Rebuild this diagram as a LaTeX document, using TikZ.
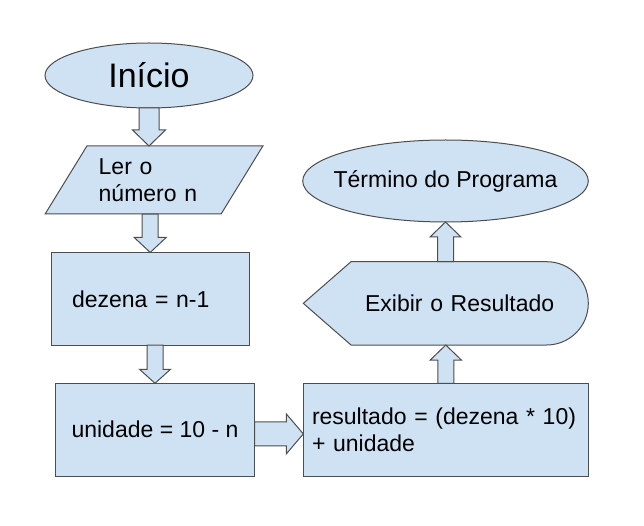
\documentclass[tikz,border=0pt]{standalone}
\usepackage{fontspec}
\setmainfont{Liberation Sans}
\usetikzlibrary{shapes.geometric,calc,backgrounds}

\definecolor{azul}{HTML}{CFE2F3}
\definecolor{borda}{HTML}{4D4D4D}

\tikzset{
  forma/.style={draw=borda, fill=azul, line width=1pt},
  elipse/.style={forma, ellipse, inner sep=0pt, outer sep=0pt},
  caixa/.style={forma, rectangle, minimum height=92.7pt, outer sep=0pt},
  entrada/.style={forma, trapezium, trapezium left angle=53.7,
    trapezium right angle=126.3, trapezium stretches=true, outer sep=0pt},
  seta/.style={forma, line join=miter},
}

% seta larga: inicio, ponta, meia largura da haste, meia largura da cabeca, comprimento da cabeca
\newcommand{\blocoseta}[5]{%
  \coordinate (s-a) at (#1);
  \coordinate (s-b) at (#2);
  \coordinate (s-c) at ($(s-b)!#5!(s-a)$);
  \draw[seta] ($(s-a)!#3!90:(s-b)$) -- ($(s-c)!#3!-90:(s-a)$) -- ($(s-c)!#4!-90:(s-a)$)
    -- (s-b) -- ($(s-c)!#4!90:(s-a)$) -- ($(s-c)!#3!90:(s-a)$) -- ($(s-a)!#3!-90:(s-b)$) -- cycle;
}

\begin{document}
\begin{tikzpicture}[x=1pt, y=1pt, font=\fontsize{23}{27}\selectfont]
  \useasboundingbox (0,0) rectangle (644,525);
  % coluna da esquerda
  \node[elipse, minimum width=208pt, minimum height=65pt,
    font=\fontsize{34}{40}\selectfont] (inicio) at (149,449.5) {Início};
  \node[entrada, minimum width=218pt, minimum height=68pt, text width=110.6pt,
    align=left] (ler) at (154,345) {Ler o\\número n};
  \node[caixa, minimum width=198.3pt, text width=156.4pt, align=left] (dezena)
    at (150.2,226.2) {dezena = n-1};
  \node[caixa, minimum width=199pt, align=center] (unidade) at (155,95.35)
    {unidade = 10 - n};
  % coluna da direita
  \node[caixa, minimum width=285pt, text width=267.6pt, align=left] (resultado)
    at (445.8,95.35) {resultado = (dezena * 10)\\+ unidade};
  \node[rectangle, minimum width=285pt, minimum height=83.3pt, outer sep=0pt,
    text width=217pt, align=right] (exibir) at (445.8,221.65) {Exibir o Resultado};
  \begin{scope}[on background layer]
    \draw[forma] (exibir.west) -- ([xshift=47.7pt]exibir.north west)
      -- ([xshift=-41.65pt]exibir.north east) arc[start angle=90, end angle=-90, radius=41.65pt]
      -- ([xshift=47.7pt]exibir.south west) -- cycle;
  \end{scope}
  \node[elipse, minimum width=285.6pt, minimum height=82pt, inner xsep=-12pt] (termino)
    at (445.5,344) {Término do Programa};
  % setas
  \blocoseta{inicio.south}{inicio.south |- ler.north}{10pt}{16.5pt}{16pt}
  \blocoseta{dezena.north |- ler.south}{dezena.north}{8pt}{16pt}{15pt}
  \blocoseta{unidade.north |- dezena.south}{unidade.north}{8pt}{15.5pt}{14pt}
  \coordinate (u-e) at ([yshift=-4.25pt]unidade.east);
  \blocoseta{u-e}{u-e -| resultado.west}{12pt}{20pt}{17pt}
  \blocoseta{resultado.north}{resultado.north |- exibir.south}{8pt}{15.5pt}{15pt}
  \blocoseta{termino.south |- exibir.north}{termino.south}{8pt}{15.5pt}{15pt}
\end{tikzpicture}
\end{document}
